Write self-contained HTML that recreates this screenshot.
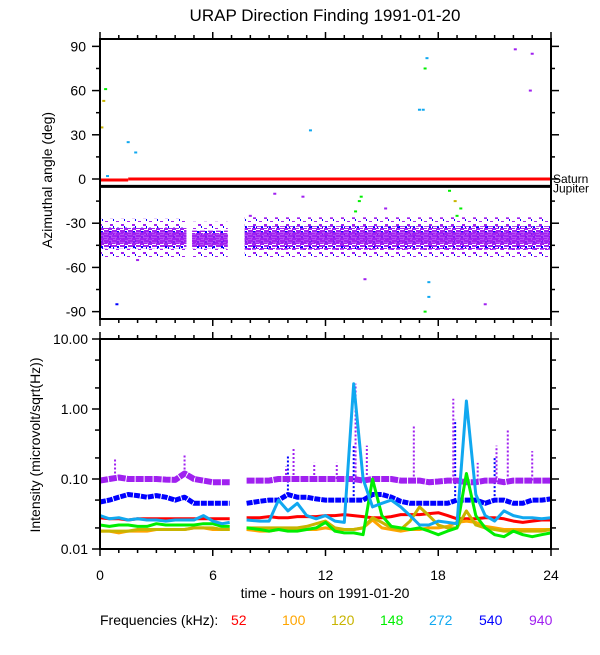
<!DOCTYPE html>
<html><head><meta charset="utf-8"><style>
body{margin:0;background:#fff;}
svg text{font-family:"Liberation Sans",sans-serif;}
</style></head><body>
<svg id="c" width="600" height="650" xmlns="http://www.w3.org/2000/svg">
<defs>
<pattern id="band" width="8" height="5" patternUnits="userSpaceOnUse">
<rect x="0" y="0" width="5" height="2" fill="#a020f0"/>
<rect x="4" y="3" width="4" height="2" fill="#a020f0"/>
<rect x="5" y="1" width="2" height="2" fill="#0000ff"/>
<rect x="0" y="3" width="3" height="1" fill="#a020f0"/>
</pattern>
<pattern id="band2" width="11" height="7" patternUnits="userSpaceOnUse">
<rect x="0" y="0" width="3" height="2" fill="#a020f0"/>
<rect x="6" y="4" width="3" height="1" fill="#a020f0"/>
<rect x="3" y="2" width="1" height="2" fill="#0000ff"/>
</pattern>
</defs>
<text x="325" y="21" font-size="17" text-anchor="middle">URAP Direction Finding  1991-01-20</text>
<g id="topg"></g>
<g id="botg"></g>
<text x="100" y="580" font-size="14" text-anchor="middle">0</text>
<text x="213" y="580" font-size="14" text-anchor="middle">6</text>
<text x="325.5" y="580" font-size="14" text-anchor="middle">12</text>
<text x="438" y="580" font-size="14" text-anchor="middle">18</text>
<text x="551" y="580" font-size="14" text-anchor="middle">24</text>
<text x="325" y="598" font-size="14" text-anchor="middle">time - hours on 1991-01-20</text>
<text x="52" y="180" font-size="14" text-anchor="middle" transform="rotate(-90 52 180)">Azimuthal angle (deg)</text>
<text x="40" y="445" font-size="14" text-anchor="middle" transform="rotate(-90 40 445)">Intensity (microvolt/sqrt(Hz))</text>
<g font-size="14">
<text x="100" y="625">Frequencies (kHz):</text>
<text x="231" y="625" fill="#ff0000">52</text>
<text x="282" y="625" fill="#ffa500">100</text>
<text x="331" y="625" fill="#c8b400">120</text>
<text x="380" y="625" fill="#00ee00">148</text>
<text x="429" y="625" fill="#10a8f0">272</text>
<text x="479" y="625" fill="#0000ff">540</text>
<text x="529" y="625" fill="#a020f0">940</text>
</g>
</svg>
<script>
const hours=[0,0.5,1,1.5,2,2.5,3,3.5,4,4.5,5,5.5,6,6.5,6.9,null,7.8,8.5,9,9.5,10,10.5,11,11.5,12,12.5,13,13.5,14,14.5,15,15.5,16,16.5,17,17.5,18,18.5,19,19.5,20,20.5,21,21.5,22,22.5,23,23.5,24];
const s940=[.095,.1,.105,.1,.1,.1,.1,.098,.097,.12,.1,.095,.09,.09,.09,null,.095,.095,.095,.1,.1,.1,.1,.1,.1,.1,.1,.1,.095,.1,.1,.1,.095,.095,.095,.09,.092,.095,.095,.09,.09,.095,.095,.09,.095,.095,.095,.095,.095];
const s540=[.047,.05,.055,.06,.058,.055,.058,.055,.05,.055,.045,.045,.045,.045,.045,null,.045,.048,.05,.05,.06,.055,.055,.052,.05,.05,.05,.05,.05,.06,.06,.055,.048,.045,.045,.045,.045,.045,.05,.05,.05,.045,.05,.05,.045,.045,.05,.05,.052];
const s52=[.028,.027,.027,.026,.027,.027,.027,.027,.027,.027,.027,.027,.027,.027,.027,null,.028,.028,.029,.028,.028,.029,.029,.029,.03,.03,.031,.03,.029,.028,.028,.029,.031,.031,.031,.032,.033,.03,.027,.027,.027,.028,.028,.027,.025,.024,.025,.026,.026];
const s100=[.018,.018,.017,.018,.018,.018,.019,.019,.019,.019,.02,.02,.019,.019,.019,null,.019,.018,.018,.019,.019,.019,.019,.019,.02,.019,.019,.019,.02,.026,.02,.019,.018,.019,.019,.02,.02,.021,.024,.025,.024,.021,.02,.019,.019,.019,.019,.019,.019];
const s120=[.018,.018,.018,.018,.019,.019,.019,.019,.019,.019,.02,.02,.02,.019,.019,null,.02,.02,.02,.02,.02,.02,.021,.023,.025,.02,.019,.019,.02,.028,.024,.02,.019,.025,.04,.03,.022,.02,.02,.035,.022,.02,.019,.018,.018,.018,.018,.018,.019];
const s148=[.022,.021,.022,.022,.021,.021,.023,.022,.022,.022,.022,.023,.023,.021,.021,null,.02,.019,.018,.019,.018,.018,.019,.02,.024,.018,.017,.017,.016,.1,.03,.021,.02,.019,.02,.018,.016,.018,.02,.12,.03,.02,.016,.015,.018,.016,.015,.016,.017];
const s272=[.03,.027,.028,.026,.027,.026,.026,.025,.026,.026,.026,.03,.025,.023,.024,null,.026,.025,.025,.05,.035,.045,.03,.027,.03,.025,.024,2.3,.1,.04,.045,.05,.04,.03,.022,.022,.025,.024,.023,1.3,.06,.03,.025,.035,.03,.028,.028,.027,.028];
const spikeHours940=[0.8,4.5,9.9,10.3,11.4,12.6,13.6,14.2,16.7,18.8,20.1,21.1,21.7,23];
const spikePeaks940=[0.2,0.23,0.15,0.28,0.17,0.17,2.3,0.3,0.6,1.4,0.17,0.3,0.5,0.25];
const spikeHours540=[10,13.5,18.9,21];
const spikePeaks540=[0.22,0.3,0.7,0.2];
const bandStart=[0,4.9,7.7];
const bandEnd=[4.6,6.8,24];
const bandCenter=[-40,-41,-40];
const bandHalf=[7,6,8];
const ptHours=[0.3,0.2,0.1,1.5,1.9,0.4,11.2,17.0,17.2,17.4,17.3,17.5,17.5,17.3,22.1,22.9,23.0,13.8,13.6,13.9,18.6,18.9,19.2,19.0,9.3,10.8,2.0,15.2,20.5,14.1,0.9,8.0];
const ptAz=[61,53,35,25,18,2,33,47,47,82,75,-70,-80,-90,88,60,85,-15,-22,-12,-8,-15,-20,-25,-10,-12,-55,-20,-85,-68,-85,-25];
const ptCol=["#00ee00","#c8b400","#c8b400","#10a8f0","#10a8f0","#10a8f0","#10a8f0","#10a8f0","#10a8f0","#10a8f0","#00ee00","#10a8f0","#10a8f0","#00ee00","#a020f0","#a020f0","#a020f0","#00ee00","#00ee00","#00ee00","#00ee00","#c8b400","#00ee00","#00ee00","#a020f0","#a020f0","#a020f0","#a020f0","#a020f0","#a020f0","#0000ff","#a020f0"];

const NS='http://www.w3.org/2000/svg';
const X0=100,X1=551;
const xs=h=>X0+(X1-X0)*h/24;
const T0=39,T1=319;
const ya=a=>T0+(95-a)*(T1-T0)/190;
const B0=339,B1=549;
const yi=v=>B1-70*Math.log10(v/0.01);
function mk(tag,attrs,parent){const e=document.createElementNS(NS,tag);for(const k in attrs)e.setAttribute(k,attrs[k]);parent.appendChild(e);return e;}
const topG=document.getElementById('topg'),botG=document.getElementById('botg');

for(let i=0;i<bandStart.length;i++){
  const w=xs(bandEnd[i])-xs(bandStart[i]);
  const r2=mk('rect',{x:xs(bandStart[i]),y:ya(bandCenter[i]+bandHalf[i]+6),width:w,height:ya(bandCenter[i]-bandHalf[i]-6)-ya(bandCenter[i]+bandHalf[i]+6),fill:'url(#band2)'},topG);
  
  
  const r=mk('rect',{x:xs(bandStart[i]),y:ya(bandCenter[i]+bandHalf[i]),width:w,height:ya(bandCenter[i]-bandHalf[i])-ya(bandCenter[i]+bandHalf[i]),fill:'url(#band)'},topG);
  
  
  const rc=mk('rect',{x:xs(bandStart[i]),y:ya(bandCenter[i]+4),width:w,height:ya(bandCenter[i]-4)-ya(bandCenter[i]+4),fill:'#a020f0','fill-opacity':0.8},topG);
  
  
}
for(let i=0;i<ptHours.length;i++){
  const p=mk('rect',{x:xs(ptHours[i])-1.5,y:ya(ptAz[i])-1,width:3,height:2,fill:ptCol[i]},topG);
  
  
}
const sat=mk('line',{x1:xs(1.5),x2:X1,y1:ya(0),y2:ya(0),stroke:'#ff0000','stroke-width':3},topG);


const sat2=mk('line',{x1:X0,x2:xs(1.5),y1:ya(0)+1,y2:ya(0)+1,stroke:'#ff0000','stroke-width':3},topG);


const jup=mk('line',{x1:X0,x2:X1,y1:ya(-5),y2:ya(-5),stroke:'#000','stroke-width':3},topG);


const tS=mk('text',{x:553,y:ya(0)+4,'font-size':12},topG);tS.textContent='Saturn';


const tJ=mk('text',{x:553,y:ya(-5)+6,'font-size':12},topG);tJ.textContent='Jupiter';



function frame(g,y0,y1){
  mk('rect',{x:X0,y:y0,width:X1-X0,height:y1-y0,fill:'none',stroke:'#000','stroke-width':2},g);
  for(let h=0;h<=24;h++){
    const L=h%6===0?7:4;
    mk('line',{x1:xs(h),x2:xs(h),y1:y0,y2:y0-L,stroke:'#000','stroke-width':1.5},g);
    mk('line',{x1:xs(h),x2:xs(h),y1:y1,y2:y1+L,stroke:'#000','stroke-width':1.5},g);
  }
}
frame(topG,T0,T1);
for(let a=-90;a<=90;a+=15){
  const L=a%30===0?8:4;
  mk('line',{x1:X0,x2:X0-L,y1:ya(a),y2:ya(a),stroke:'#000','stroke-width':1.5},topG);
  mk('line',{x1:X1,x2:X1+L,y1:ya(a),y2:ya(a),stroke:'#000','stroke-width':1.5},topG);
  if(a%30===0){const t=mk('text',{x:86,y:ya(a)+5,'font-size':14,'text-anchor':'end'},topG);t.textContent=a;
  
  }
}
function series(vals,col,w,dash,name){
  let d='',pen=false;
  for(let i=0;i<hours.length;i++){
    if(hours[i]===null||vals[i]===null){pen=false;continue;}
    d+=(pen?'L':'M')+xs(hours[i]).toFixed(1)+' '+yi(vals[i]).toFixed(1)+' ';pen=true;
  }
  const p=mk('path',{d:d,fill:'none',stroke:col,'stroke-width':w,'stroke-dasharray':dash||'none','stroke-linejoin':'round'},botG);
  
  
}
function spikes(hs,ps,base,col,name){
  for(let i=0;i<hs.length;i++){
    let j=0;while(j<hours.length-1&&(hours[j]===null||hours[j]<hs[i]))j++;
    const b=base[j]||base[j-1]||0.05;
    const l=mk('line',{x1:xs(hs[i]),x2:xs(hs[i]),y1:yi(b),y2:yi(ps[i]),stroke:col,'stroke-width':2,'stroke-dasharray':'2 2'},botG);
    
    
  }
}
series(s540,'#0000ff',5,'6 1','series-540');
spikes(spikeHours540,spikePeaks540,s540,'#0000ff','spike-540');
series(s940,'#a020f0',6,'8 1','series-940');
spikes(spikeHours940,spikePeaks940,s940,'#a020f0','spike-940');
series(s52,'#ff0000',3,'','series-52');
series(s100,'#ffa500',3,'','series-100');
series(s120,'#c8b400',3,'','series-120');
series(s148,'#00ee00',3,'','series-148');
series(s272,'#10a8f0',3,'','series-272');
frame(botG,B0,B1);
const dec=[0.01,0.1,1,10],lab=['0.01','0.10','1.00','10.00'];
for(let k=0;k<4;k++){
  for(const m of [1,2,5]){
    const v=dec[k]*m;if(v>10)continue;
    const L=m===1?8:5;
    mk('line',{x1:X0,x2:X0-L,y1:yi(v),y2:yi(v),stroke:'#000','stroke-width':1.5},botG);
    mk('line',{x1:X1,x2:X1+L,y1:yi(v),y2:yi(v),stroke:'#000','stroke-width':1.5},botG);
  }
  const t=mk('text',{x:88,y:yi(dec[k])+5,'font-size':14,'text-anchor':'end'},botG);t.textContent=lab[k];
  
  
}
</script>
</body></html>
